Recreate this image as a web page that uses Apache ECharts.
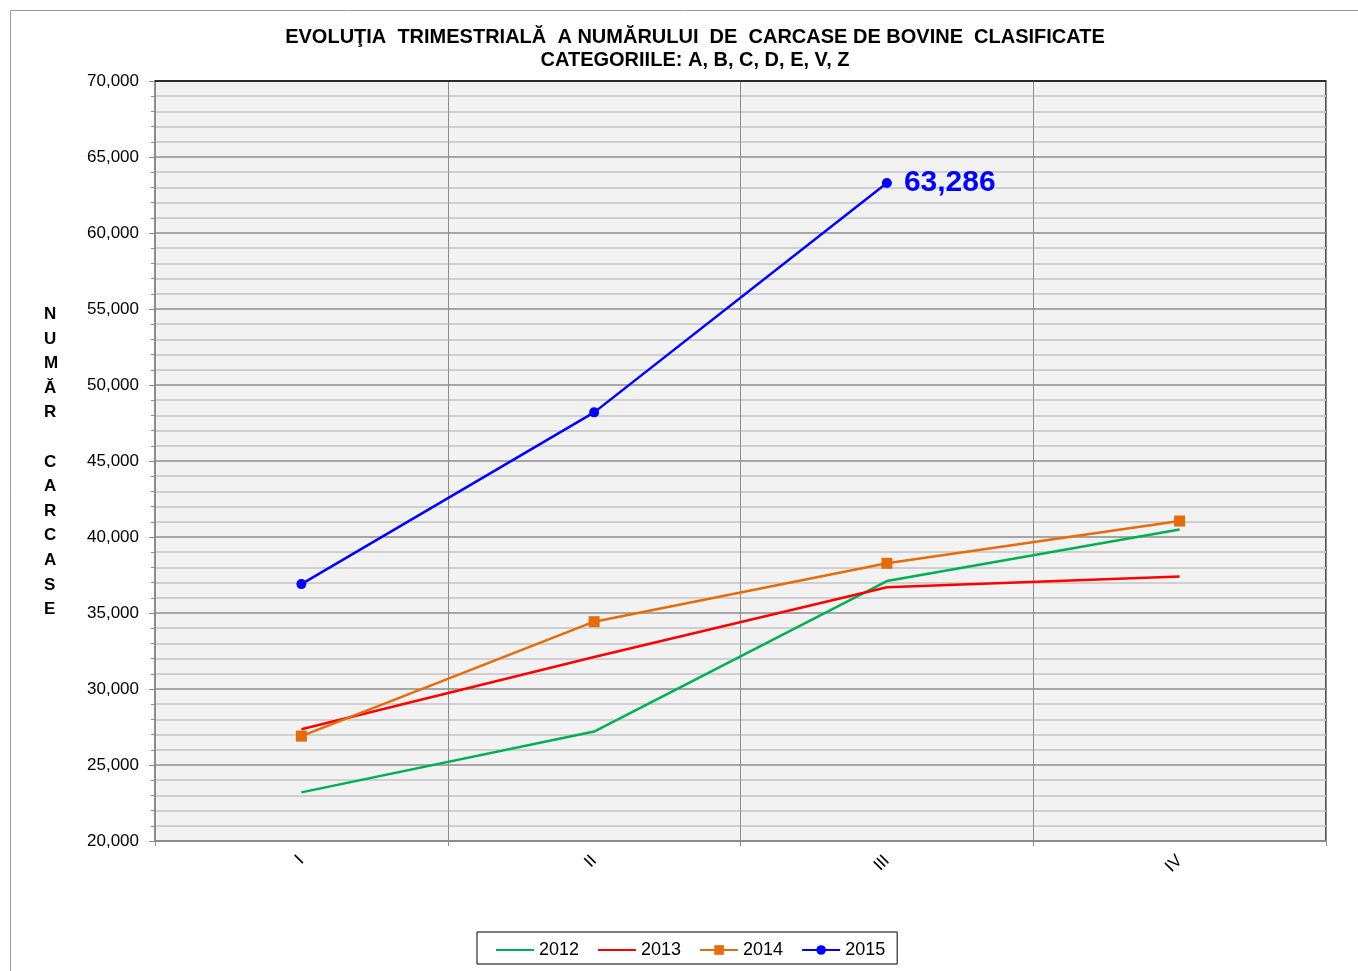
<!DOCTYPE html>
<html>
<head>
<meta charset="utf-8">
<title>Evolutia trimestriala carcase bovine</title>
<script src="https://cdn.jsdelivr.net/npm/echarts@6/dist/echarts.min.js"></script>
<style>
  html, body { margin: 0; padding: 0; background: #fff; }
  #chart { width: 1358px; height: 971px; }
</style>
</head>
<body>
<div id="chart"></div>
<script>
// date
var quarters = ['I', 'II', 'III', 'IV']
var years = ['2012', '2013', '2014', '2015']
var values2012 = [23200, 27200, 37100, 40500]
var values2013 = [27350, 32100, 36700, 37400]
var values2014 = [26900, 34430, 38270, 41050]
var values2015 = [36900, 48200, 63286, null]
var yTicks = [20000, 25000, 30000, 35000, 40000, 45000, 50000, 55000, 60000, 65000, 70000]

var chart = echarts.init(document.getElementById('chart'))

function fmt(v) {
  return String(v).replace(/\B(?=(\d{3})+(?!\d))/g, ',')
}

chart.setOption({
  animation: false,
  textStyle: { fontFamily: 'Liberation Sans, Arial, sans-serif' },
  title: {
    text: 'EVOLUŢIA  TRIMESTRIALĂ  A NUMĂRULUI  DE  CARCASE DE BOVINE  CLASIFICATE\nCATEGORIILE: A, B, C, D, E, V, Z',
    left: 690,
    top: 21,
    textAlign: 'center',
    textStyle: {
      fontSize: 20,
      fontWeight: 'bold',
      color: '#000',
      lineHeight: 23,
      fontFamily: 'Liberation Sans Narrow, Liberation Sans, Arial, sans-serif'
    }
  },
  graphic: [
    {
      // chenarul exterior
      type: 'rect',
      silent: true,
      shape: { x: 10.5, y: 10.5, width: 1400, height: 1000 },
      style: { fill: 'none', stroke: '#9a9a9a', lineWidth: 1 }
    },
    {
      // marginea de sus a zonei de desen
      type: 'line',
      silent: true,
      z: 10,
      shape: { x1: 155, y1: 81, x2: 1326, y2: 81 },
      style: { stroke: '#111', lineWidth: 1.5 }
    },
    {
      type: 'text',
      left: 44,
      top: 302,
      style: {
        text: 'NUMĂR CARCASE'.split('').join('\n'),
        font: 'bold 17px Liberation Sans, Arial, sans-serif',
        fill: '#000',
        lineHeight: 24.6,
        align: 'center'
      }
    }
  ],
  legend: {
    data: [
      { name: '2012', itemStyle: { opacity: 0 } },
      { name: '2013', itemStyle: { opacity: 0 } },
      { name: '2014' },
      { name: '2015' }
    ],
    left: 477,
    top: 932,
    padding: [9, 12, 5, 18],
    itemGap: 18,
    itemWidth: 38,
    itemHeight: 12,
    borderColor: '#000',
    borderWidth: 1,
    textStyle: { fontSize: 18, color: '#000', padding: [6, 0, 0, 0] }
  },
  grid: {
    left: 155,
    right: 32,
    top: 81,
    bottom: 130,
    show: true,
    backgroundColor: '#F2F2F2',
    borderColor: '#222',
    borderWidth: 1.5
  },
  xAxis: {
    type: 'category',
    data: quarters,
    boundaryGap: true,
    axisLine: { lineStyle: { color: '#8c8c8c', width: 2 } },
    axisTick: { show: true, length: 5, lineStyle: { color: '#8c8c8c' } },
    axisLabel: { rotate: 45, color: '#000', fontSize: 17, margin: 17 },
    splitLine: { show: true, lineStyle: { color: '#8c8c8c', width: 1 } }
  },
  yAxis: {
    type: 'value',
    min: yTicks[0],
    max: yTicks[yTicks.length - 1],
    interval: 5000,
    axisLine: { show: true, lineStyle: { color: '#8c8c8c', width: 2 } },
    axisTick: { show: true, length: 6, lineStyle: { color: '#8c8c8c' } },
    minorTick: { show: true, splitNumber: 5, length: 4, lineStyle: { color: '#8c8c8c' } },
    axisLabel: { color: '#000', fontSize: 17, margin: 16, formatter: fmt },
    splitLine: { show: true, lineStyle: { color: '#8c8c8c', width: 1.5 } },
    minorSplitLine: { show: true, lineStyle: { color: '#c4c4c4', width: 1.5 } }
  },
  series: [
    {
      name: '2012',
      type: 'line',
      data: values2012,
      symbol: 'none',
      lineStyle: { color: '#00B050', width: 2.5 },
      itemStyle: { color: '#00B050' }
    },
    {
      name: '2013',
      type: 'line',
      data: values2013,
      symbol: 'none',
      lineStyle: { color: '#FF0000', width: 2.5 },
      itemStyle: { color: '#FF0000' }
    },
    {
      name: '2014',
      type: 'line',
      data: values2014,
      symbol: 'rect',
      symbolSize: 11,
      lineStyle: { color: '#E46C0A', width: 2.5 },
      itemStyle: { color: '#E46C0A' }
    },
    {
      name: '2015',
      type: 'line',
      data: values2015.map(function (v, i) {
        if (i !== 2) return v
        return {
          value: v,
          label: {
            show: true,
            position: 'right',
            distance: 12,
            formatter: function (p) { return fmt(p.value) },
            color: '#0000FF',
            fontSize: 30,
            fontWeight: 'bold'
          }
        }
      }),
      symbol: 'circle',
      symbolSize: 10,
      lineStyle: { color: '#0000FF', width: 2.5 },
      itemStyle: { color: '#0000FF' }
    }
  ]
})
</script>
</body>
</html>
